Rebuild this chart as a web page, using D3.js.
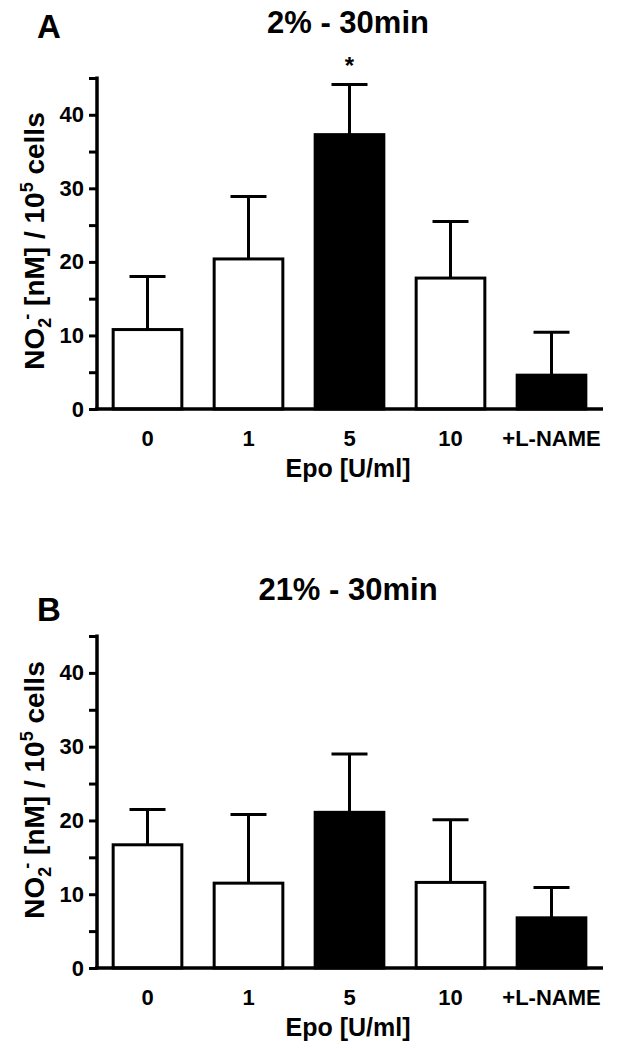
<!DOCTYPE html>
<html>
<head>
<meta charset="utf-8">
<script src="https://cdn.jsdelivr.net/npm/d3@7"></script>
<style>
  html, body { margin: 0; padding: 0; background: #fff; }
  text { font-family: "Liberation Sans", Arial, Helvetica, sans-serif; font-weight: bold; fill: #000; }
</style>
</head>
<body>
<script>
// ---- data ----
const categories = ["0", "1", "5", "10", "+L-NAME"];
const filledCategories = ["5", "+L-NAME"];
const meanA = [10.8, 20.4, 37.3, 17.8, 4.6];
const errA  = [7.2, 8.5, 6.8, 7.7, 5.85];
const sigA  = ["", "", "*", "", ""];
const meanB = [16.7, 11.5, 21.1, 11.6, 6.8];
const errB  = [4.8, 9.3, 7.9, 8.5, 4.1];
const sigB  = ["", "", "", "", ""];
const yMajorTicks = [0, 10, 20, 30, 40];
const yAllTicks = [0, 5, 10, 15, 20, 25, 30, 35, 40, 45];
const yMax = 45;
const panelLetters = ["A", "B"];
const panelTitles = ["2% - 30min", "21% - 30min"];
const xAxisTitle = "Epo [U/ml]";

const W = 619, H = 1050;
const svg = d3.select("body").append("svg")
  .attr("width", W).attr("height", H)
  .style("display", "block");
svg.append("rect").attr("width", W).attr("height", H).attr("fill", "#fff");

const x = d3.scaleBand().domain(categories).range([97, 602])
  .paddingInner(0.32).paddingOuter(0.16);

const panels = [
  { letter: panelLetters[0], title: panelTitles[0], mean: meanA, err: errA, sig: sigA,
    y0: 409, yTop: 78, letterY: 38, titleY: 33, ylabCY: 241 },
  { letter: panelLetters[1], title: panelTitles[1], mean: meanB, err: errB, sig: sigB,
    y0: 968, yTop: 636, letterY: 621, titleY: 600, ylabCY: 790 }
];

panels.forEach(p => {
  const g = svg.append("g");
  const y = d3.scaleLinear().domain([0, yMax]).range([p.y0, p.yTop]);
  const rows = categories.map((c, i) => ({ c, m: p.mean[i], e: p.err[i], s: p.sig[i] }));

  // error bars (upper only)
  g.selectAll("line.eb").data(rows).enter().append("line")
    .attr("x1", d => x(d.c) + x.bandwidth() / 2).attr("x2", d => x(d.c) + x.bandwidth() / 2)
    .attr("y1", d => y(d.m)).attr("y2", d => y(d.m + d.e))
    .attr("stroke", "#000").attr("stroke-width", 3);
  g.selectAll("line.cap").data(rows).enter().append("line")
    .attr("x1", d => x(d.c) + x.bandwidth() / 2 - 18).attr("x2", d => x(d.c) + x.bandwidth() / 2 + 18)
    .attr("y1", d => y(d.m + d.e)).attr("y2", d => y(d.m + d.e))
    .attr("stroke", "#000").attr("stroke-width", 3);

  // bars
  g.selectAll("rect.bar").data(rows).enter().append("rect")
    .attr("x", d => x(d.c)).attr("width", x.bandwidth())
    .attr("y", d => y(d.m)).attr("height", d => y(0) - y(d.m))
    .attr("fill", d => filledCategories.includes(d.c) ? "#000" : "#fff")
    .attr("stroke", "#000").attr("stroke-width", 3);

  // significance marks
  g.selectAll("text.sig").data(rows.filter(d => d.s)).enter().append("text")
    .attr("x", d => x(d.c) + x.bandwidth() / 2)
    .attr("y", d => y(d.m + d.e) - 11)
    .attr("text-anchor", "middle").attr("font-size", 24).text(d => d.s);

  // y axis
  const yAxis = d3.axisLeft(y).tickValues(yAllTicks).tickSize(8).tickPadding(5)
    .tickFormat(v => yMajorTicks.includes(v) ? String(v) : "");
  const ya = g.append("g").attr("transform", "translate(97,0)").call(yAxis);
  ya.select(".domain").remove();
  ya.selectAll(".tick line").attr("stroke", "#000").attr("stroke-width", 3);
  ya.selectAll(".tick text").attr("font-size", 22).attr("font-family", "Liberation Sans, Arial, sans-serif")
    .attr("font-weight", "bold").attr("fill", "#000");
  g.append("line").attr("x1", 97).attr("x2", 97).attr("y1", y(0) + 1.5).attr("y2", y(yMax) - 1.5)
    .attr("stroke", "#000").attr("stroke-width", 3.5);

  // x axis
  const xAxis = d3.axisBottom(x).tickSize(0).tickPadding(21);
  const xa = g.append("g").attr("transform", `translate(0,${p.y0})`).call(xAxis);
  xa.select(".domain").remove();
  xa.selectAll(".tick text").attr("font-size", 22).attr("font-family", "Liberation Sans, Arial, sans-serif")
    .attr("font-weight", "bold").attr("fill", "#000");
  g.append("line").attr("x1", 95).attr("x2", 603).attr("y1", p.y0).attr("y2", p.y0)
    .attr("stroke", "#000").attr("stroke-width", 3.5);

  // x axis title
  g.append("text").attr("x", 348).attr("y", p.y0 + 68).attr("text-anchor", "middle")
    .attr("font-size", 25).text(xAxisTitle);

  // y axis title
  const yl = g.append("text")
    .attr("transform", `translate(44,${p.ylabCY}) rotate(-90)`)
    .attr("text-anchor", "middle").attr("font-size", 28);
  yl.append("tspan").text("NO");
  yl.append("tspan").attr("font-size", 18).attr("dy", 7).text("2");
  yl.append("tspan").attr("font-size", 18).attr("dy", -18).attr("dx", -2).text("-");
  yl.append("tspan").attr("dy", 11).text(" [nM] / 10");
  yl.append("tspan").attr("font-size", 18).attr("dy", -11).text("5");
  yl.append("tspan").attr("dy", 11).text(" cells");

  // panel letter and title
  g.append("text").attr("x", 37).attr("y", p.letterY).attr("font-size", 33).text(p.letter);
  g.append("text").attr("x", 348).attr("y", p.titleY).attr("text-anchor", "middle")
    .attr("font-size", 31).text(p.title);
});
</script>
</body>
</html>
